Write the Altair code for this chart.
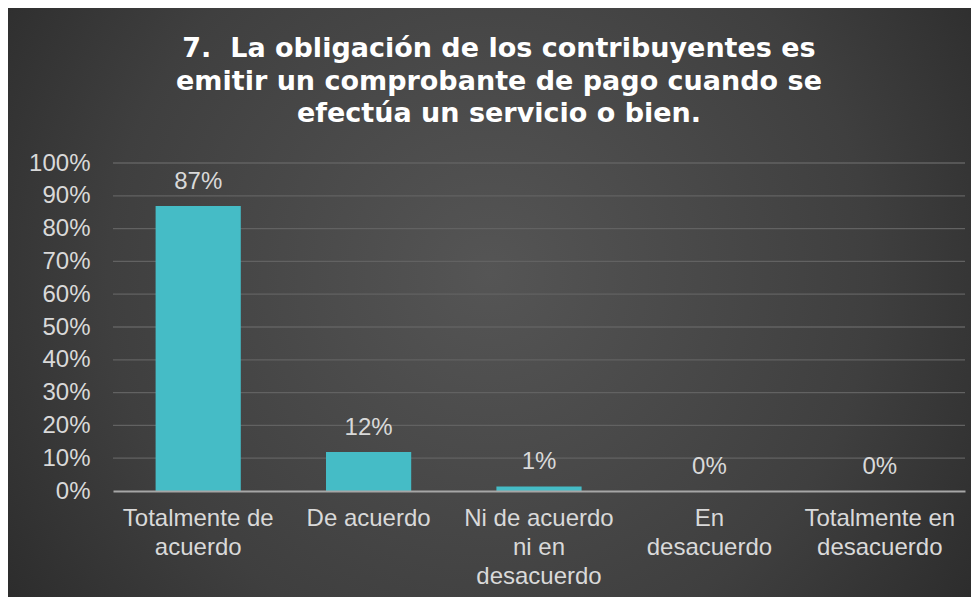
import json
import altair as alt
import pandas as pd

categories = ["Totalmente de acuerdo", "De acuerdo", "Ni de acuerdo ni en desacuerdo",
              "En desacuerdo", "Totalmente en desacuerdo"]
label_lines = [["Totalmente de", "acuerdo"], ["De acuerdo"], ["Ni de acuerdo", "ni en", "desacuerdo"],
               ["En", "desacuerdo"], ["Totalmente en", "desacuerdo"]]
values = [0.869, 0.119, 0.014, 0.0, 0.0]
y_ticks = [0, 0.1, 0.2, 0.3, 0.4, 0.5, 0.6, 0.7, 0.8, 0.9, 1.0]
grid_ticks = [0.1, 0.2, 0.3, 0.4, 0.5, 0.6, 0.7, 0.8, 0.9, 1.0]
title_lines = ["7.\u00a0 La obligación de los contribuyentes es",
               "emitir un comprobante de pago cuando se",
               "efectúa un servicio o bien."]

W, H = 852, 328
PL, PT, PR, PB = 105, 155, 6, 106
FONT = "Liberation Sans"
TXT = "#d9d9d9"

df = pd.DataFrame({"cat": categories, "val": values})
grid_df = pd.DataFrame({"val": grid_ticks})
bg_df = pd.DataFrame({"a": [0]})

lines_map = json.dumps(dict(zip(categories, label_lines)), ensure_ascii=False)

x_axis = alt.Axis(labelExpr=f"{lines_map}[datum.label]", labelAngle=0,
                  labelFont=FONT, labelFontSize=24, labelColor=TXT,
                  labelLineHeight=29, labelPadding=15, labelBaseline="top",
                  ticks=False, domainColor="#a6a6a6", domainWidth=2,
                  grid=False, zindex=1, labelLimit=300, labelOverlap=False)
y_axis = alt.Axis(format=".0%", values=y_ticks, labelOverlap=False,
                  labelFont=FONT, labelFontSize=24, labelColor=TXT, labelPadding=23,
                  ticks=False, domain=False, grid=False, zindex=1)
x_scale = alt.Scale(paddingInner=0.5, paddingOuter=0.25)
y_scale = alt.Scale(domain=[0, 1])

bg = alt.Chart(bg_df).mark_rect(
    color={"gradient": "radial", "x1": 0.5, "y1": 0.47, "r1": 0.0,
           "x2": 0.5, "y2": 0.47, "r2": 0.72,
           "stops": [{"offset": 0, "color": "#555555"},
                     {"offset": 0.55, "color": "#3f3f3f"},
                     {"offset": 1, "color": "#222222"}]}
).encode(x=alt.value(-PL), x2=alt.value(W + PR), y=alt.value(-PT), y2=alt.value(H + PB))

grid = alt.Chart(grid_df).mark_rule(color="#626262", strokeWidth=1.3).encode(
    y=alt.Y("val:Q", scale=y_scale, title=None, axis=y_axis), x=alt.value(0), x2=alt.value(W))

bars = alt.Chart(df).mark_bar(color="#45bcc6").encode(
    x=alt.X("cat:N", sort=categories, title=None, scale=x_scale, axis=x_axis),
    y=alt.Y("val:Q", scale=y_scale, title=None, axis=y_axis))

labels = alt.Chart(df).mark_text(font=FONT, fontSize=24, color=TXT, baseline="alphabetic", dy=-17).encode(
    x=alt.X("cat:N", sort=categories, title=None, scale=x_scale, axis=x_axis),
    y=alt.Y("val:Q", scale=y_scale, title=None, axis=y_axis),
    text=alt.Text("val:Q", format=".0%"))

chart = alt.layer(bg, grid, bars, labels).properties(
    width=W, height=H,
    padding={"left": PL, "top": PT, "right": PR, "bottom": PB},
    autosize=alt.AutoSizeParams(type="none"),
    background="#262626",
    title=alt.TitleParams(text=title_lines, font="DejaVu Sans", fontSize=27, fontWeight="bold",
                          color="#ffffff", lineHeight=32.5, anchor="middle", dx=-40,
                          offset=0, dy=120, zindex=2, limit=900)
).configure_view(stroke=None)

chart.save("out.html", embed_options={"renderer": "svg", "actions": False})
